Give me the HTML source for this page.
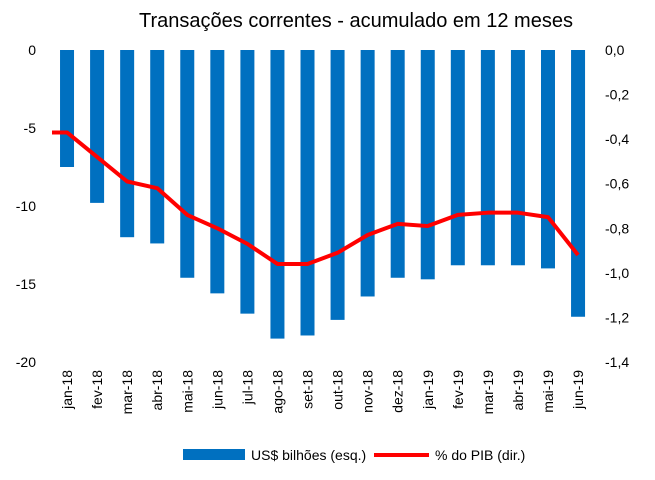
<!DOCTYPE html>
<html><head><meta charset="utf-8"><style>
body{margin:0;background:#fff;}
svg text{font-family:"Liberation Sans",sans-serif;fill:#000;}
</style></head><body>
<svg id="c" width="655" height="475">
<text x="356" y="27" font-size="20" text-anchor="middle">Transações correntes - acumulado em 12 meses</text>
<g id="bars"></g><g id="xl"></g><g id="yl"></g><g id="yr"></g>
<polyline id="line" fill="none" stroke="#ff0000" stroke-width="4" stroke-linejoin="round"/>
<rect x="183" y="449" width="62" height="11" fill="#0070c0"/>
<text x="251" y="460" font-size="14">US$ bilhões (esq.)</text>
<line x1="374" y1="455" x2="429" y2="455" stroke="#ff0000" stroke-width="4"/>
<text x="435" y="460" font-size="14">% do PIB (dir.)</text>
</svg>
<script>
const categories=["jan-18","fev-18","mar-18","abr-18","mai-18","jun-18","jul-18","ago-18","set-18","out-18","nov-18","dez-18","jan-19","fev-19","mar-19","abr-19","mai-19","jun-19"];
const usd=[-7.5,-9.8,-12.0,-12.4,-14.6,-15.6,-16.9,-18.5,-18.3,-17.3,-15.8,-14.6,-14.7,-13.8,-13.8,-13.8,-14.0,-17.1];
const pib=[-0.37,-0.48,-0.59,-0.62,-0.74,-0.80,-0.87,-0.96,-0.96,-0.91,-0.83,-0.78,-0.79,-0.74,-0.73,-0.73,-0.75,-0.92];
const leftTicks=[0,-5,-10,-15,-20];
const rightTicks=["0,0","-0,2","-0,4","-0,6","-0,8","-1,0","-1,2","-1,4"];
const NS="http://www.w3.org/2000/svg";
const yTop=50,yBot=362,x0=52,step=30.06;
const yL=v=>yTop+(v/-20)*(yBot-yTop);
const yR=v=>yTop+(v/-1.4)*(yBot-yTop);
const xC=i=>x0+step*(i+0.5);
function mk(t,a,p){const e=document.createElementNS(NS,t);for(const k in a)e.setAttribute(k,a[k]);p.appendChild(e);return e;}
const gb=document.getElementById('bars'),gx=document.getElementById('xl'),gl=document.getElementById('yl'),gr=document.getElementById('yr');
usd.forEach((v,i)=>{
 const r=mk('rect',{x:xC(i)-7,y:yTop,width:14,height:yL(v)-yTop,fill:'#0070c0'},gb);
 
 
 const t=mk('text',{x:0,y:0,'font-size':14,'text-anchor':'end',transform:`translate(${xC(i)+5},370) rotate(-90)`},gx);
 t.textContent=categories[i];
 
 
});
leftTicks.forEach(v=>{
 const t=mk('text',{x:36,y:yL(v)+5,'font-size':14,'text-anchor':'end'},gl);
 t.textContent=v;
 
 
});
rightTicks.forEach((s,i)=>{
 const t=mk('text',{x:605,y:yR(-0.2*i)+5,'font-size':14},gr);
 t.textContent=s;
 
 
});
const pts=pib.map((v,i)=>xC(i)+','+yR(v));
pts.unshift(x0+','+yR(pib[0]));
document.getElementById('line').setAttribute('points',pts.join(' '));
</script>
</body></html>
